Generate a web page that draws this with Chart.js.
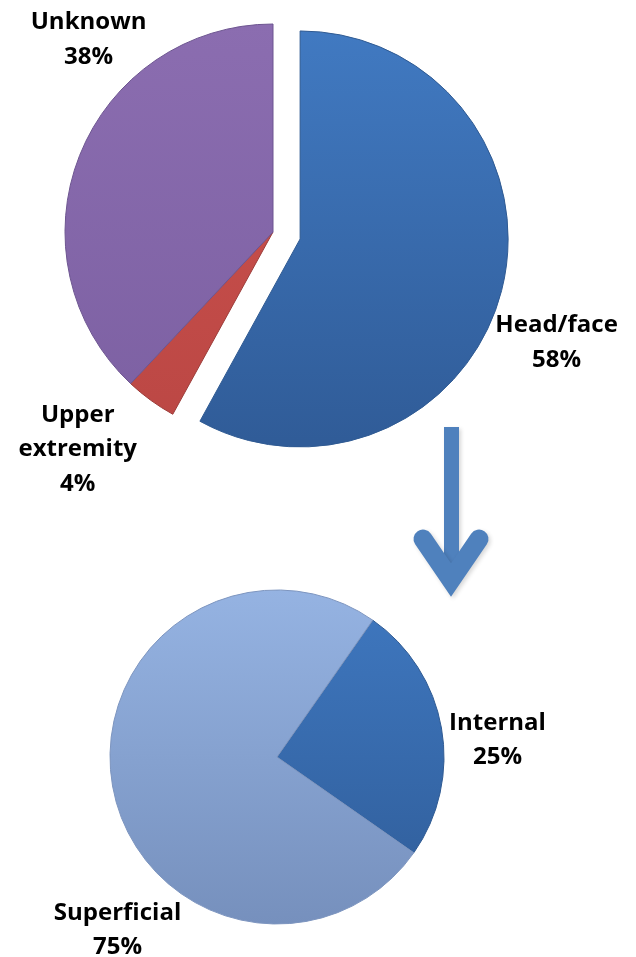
<!DOCTYPE html>
<html>
<head>
<meta charset="utf-8">
<script src="https://cdn.jsdelivr.net/npm/chart.js@4.4.0/dist/chart.umd.min.js"></script>
<style>
  html, body { margin: 0; padding: 0; background: #fff; }
  #wrap { position: relative; width: 636px; height: 957px; }
  canvas { position: absolute; left: 0; top: 0; }
</style>
</head>
<body>
<div id="wrap">
  <canvas id="topPie" width="636" height="957"></canvas>
  <canvas id="bottomPie" width="636" height="957"></canvas>
</div>
<script>
// location of injury
const siteLabels = [['Head/face'], ['Upper', 'extremity'], ['Unknown']];
const siteValues = [58, 4, 38];
// type of injury (head/face)
const typeLabels = [['Internal'], ['Superficial']];
const typeValues = [25, 75];

const FONT = 'bold 24px "Open Sans", sans-serif';
const LINE = 34.5;

// vertical gradient across the pie
function grad(chart, top, bottom) {
  const area = chart.chartArea;
  const r = chart.options.radius;
  if (!area || !isFinite(area.top)) return top;
  const cy = (area.top + area.bottom) / 2;
  const g = chart.ctx.createLinearGradient(0, cy - r, 0, cy + r);
  g.addColorStop(0, top);
  g.addColorStop(1, bottom);
  return g;
}

// pull the first slice out along its middle angle, same radius
const explodePlugin = {
  id: 'explode',
  afterDatasetsUpdate(chart) {
    const arc = chart.getDatasetMeta(0).data[0];
    const mid = (arc.startAngle + arc.endAngle) / 2;
    arc.x += Math.cos(mid) * 28;
    arc.y += Math.sin(mid) * 28;
  }
};

// labels placed from each slice's own angle
function labelPlugin(spots) {
  return {
    id: 'sliceLabels',
    afterDatasetsDraw(chart) {
      const ctx = chart.ctx;
      const meta = chart.getDatasetMeta(0);
      const labels = chart.data.labels;
      const vals = chart.data.datasets[0].data;
      ctx.save();
      ctx.font = FONT;
      ctx.fillStyle = '#000';
      ctx.textAlign = 'center';
      ctx.textBaseline = 'middle';
      meta.data.forEach((arc, i) => {
        const mid = (arc.startAngle + arc.endAngle) / 2;
        const s = spots[i];
        const x = arc.x + Math.cos(mid) * arc.outerRadius + s.dx;
        const y = arc.y + Math.sin(mid) * arc.outerRadius + s.dy;
        const lines = labels[i].concat([vals[i] + '%']);
        const start = y - (lines.length - 1) * LINE / 2;
        lines.forEach((t, j) => ctx.fillText(t, x, start + j * LINE));
      });
      ctx.restore();
    }
  };
}

// the arrow between the two pies
const arrowPlugin = {
  id: 'arrow',
  afterDraw(chart) {
    const ctx = chart.ctx;
    ctx.save();
    ctx.shadowColor = 'rgba(0,0,0,0.16)';
    ctx.shadowBlur = 4;
    ctx.shadowOffsetX = 2;
    ctx.shadowOffsetY = 2;
    ctx.strokeStyle = '#4f81bd';
    ctx.fillStyle = '#4f81bd';
    ctx.fillRect(444, 427, 15, 140);
    ctx.lineWidth = 19;
    ctx.lineCap = 'round';
    ctx.lineJoin = 'miter';
    ctx.beginPath();
    ctx.moveTo(423, 539);
    ctx.lineTo(451, 580);
    ctx.lineTo(479, 539);
    ctx.stroke();
    ctx.restore();
  }
};

new Chart(document.getElementById('topPie'), {
  type: 'pie',
  data: {
    labels: siteLabels,
    datasets: [{
      data: siteValues,
      backgroundColor: (c) => {
        const cols = [['#417ac2', '#305c98'], ['#cd524e', '#bb4744'], ['#8b6db0', '#7c60a2']];
        const p = cols[c.dataIndex];
        return grad(c.chart, p[0], p[1]);
      },
      borderColor: ['#2f5a92', '#9c3c39', '#6d5590'],
      borderWidth: 1
    }]
  },
  options: {
    responsive: false,
    animation: false,
    events: [],
    radius: 208,
    rotation: 0,
    layout: { padding: { left: 0, right: 90, top: 0, bottom: 493 } },
    plugins: { legend: { display: false }, tooltip: { enabled: false } }
  },
  plugins: [explodePlugin, labelPlugin([
    { dx: 55, dy: 52 },
    { dx: -73, dy: 49 },
    { dx: 9, dy: -116 }
  ]), arrowPlugin]
});

new Chart(document.getElementById('bottomPie'), {
  type: 'pie',
  data: {
    labels: typeLabels,
    datasets: [{
      data: typeValues,
      backgroundColor: (c) => {
        const cols = [['#3f78c0', '#2f5c98'], ['#95b3e2', '#7690bd']];
        const p = cols[c.dataIndex];
        return grad(c.chart, p[0], p[1]);
      },
      borderColor: ['#2f5a92', '#7d95bf'],
      borderWidth: 1
    }]
  },
  options: {
    responsive: false,
    animation: false,
    events: [],
    radius: 167,
    rotation: 35,
    layout: { padding: { left: 0, right: 82, top: 590, bottom: 33 } },
    plugins: { legend: { display: false }, tooltip: { enabled: false } }
  },
  plugins: [labelPlugin([
    { dx: 56, dy: 12 },
    { dx: 5, dy: 144 }
  ])]
});
</script>
</body>
</html>
